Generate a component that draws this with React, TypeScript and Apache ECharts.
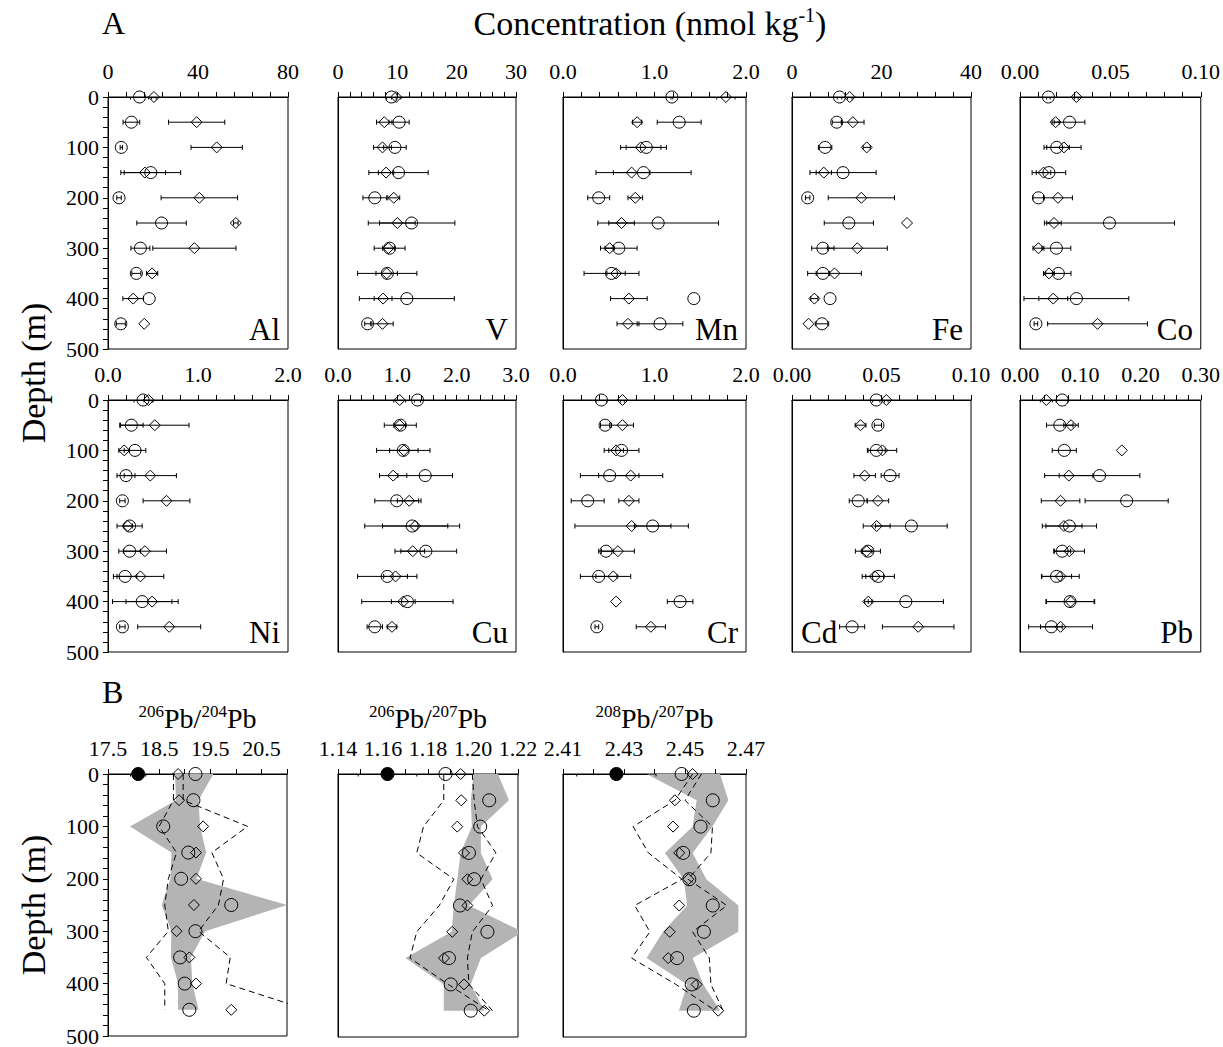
import React, { useEffect, useRef } from 'react';
import * as echarts from 'echarts';

const FONT = '"Liberation Serif", "Times New Roman", serif';

const depths = [0, 50, 100, 150, 200, 250, 300, 350, 400, 450];

// ---- Panel A: circles (c) and diamonds (d) with their errors (e)
const alC = [14, 10.4, 5.9, 19, 4.9, 23.8, 14.4, 12.6, 18.3, 5.7];
const alCe = [4, 3.7, 0.5, 13.3, 1, 11, 4.2, 2, 0, 2];
const alD = [20.4, 39.4, 48.3, 16.4, 40.6, 56.8, 38.4, 19.6, 11.2, 16.1];
const alDe = [1, 12.5, 11.4, 9.2, 17, 1, 18.5, 2.5, 4.6, 0];

const vC = [9.0, 10.3, 9.6, 10.2, 6.2, 12.4, 8.7, 8.3, 11.6, 5.0];
const vCe = [0.8, 1.7, 1.9, 5, 2, 7.3, 2.6, 5, 8, 0.5];
const vD = [9.8, 7.8, 7.5, 8.1, 9.4, 10.0, 8.5, 8.2, 7.6, 7.5];
const vDe = [0.8, 1.3, 1.5, 1.3, 1, 3, 1, 1.8, 1.5, 1.8];

const mnC = [1.19, 1.27, 0.91, 0.88, 0.39, 1.04, 0.61, 0.53, 1.43, 1.06];
const mnCe = [0.01, 0.24, 0.22, 0.52, 0.12, 0.66, 0.2, 0.3, 0, 0.25];
const mnD = [1.78, 0.81, 0.85, 0.75, 0.79, 0.64, 0.51, 0.58, 0.72, 0.71];
const mnDe = [0.1, 0.05, 0.22, 0.2, 0.08, 0.14, 0.05, 0.1, 0.2, 0.12];

const feC = [10.6, 10.0, 7.4, 11.4, 3.5, 12.7, 6.9, 6.9, 8.5, 6.7];
const feCe = [0.5, 1, 1.5, 7.4, 0.5, 5.5, 2.5, 1.5, 0, 1.5];
const feD = [12.9, 13.6, 16.7, 7.1, 15.5, 25.7, 14.6, 9.5, 5.0, 3.7];
const feDe = [0.5, 2.5, 0.8, 1.7, 7.4, 0, 6.7, 6, 0.8, 0];

const coC = [0.0157, 0.0274, 0.0203, 0.016, 0.0102, 0.0495, 0.0201, 0.0212, 0.0312, 0.0088];
const coCe = [0.001, 0.0085, 0.007, 0.0093, 0.003, 0.036, 0.008, 0.007, 0.029, 0.001];
const coD = [0.0312, 0.0197, 0.0243, 0.013, 0.021, 0.0188, 0.0102, 0.016, 0.0184, 0.0429];
const coDe = [0.001, 0.002, 0.0095, 0.004, 0.008, 0.004, 0.003, 0.003, 0.008, 0.0276];

const niC = [0.39, 0.26, 0.3, 0.2, 0.16, 0.24, 0.24, 0.19, 0.38, 0.16];
const niCe = [0.1, 0.13, 0.12, 0.1, 0.03, 0.14, 0.12, 0.13, 0.33, 0.03];
const niD = [0.45, 0.52, 0.18, 0.47, 0.65, 0.22, 0.41, 0.36, 0.49, 0.68];
const niDe = [0.05, 0.38, 0.06, 0.29, 0.26, 0.05, 0.24, 0.26, 0.29, 0.35];

const cuC = [1.34, 1.05, 1.1, 1.47, 0.99, 1.25, 1.48, 0.83, 1.17, 0.62];
const cuCe = [0.05, 0.27, 0.45, 0.46, 0.37, 0.8, 0.52, 0.5, 0.77, 0.13];
const cuD = [1.04, 1.04, 1.11, 0.93, 1.2, 1.3, 1.26, 0.97, 1.1, 0.91];
const cuDe = [0.1, 0.1, 0.24, 0.23, 0.2, 0.55, 0.2, 0.2, 0.2, 0.08];

const crC = [0.42, 0.46, 0.64, 0.51, 0.27, 0.98, 0.47, 0.39, 1.28, 0.37];
const crCe = [0.06, 0.05, 0.19, 0.32, 0.18, 0.2, 0.08, 0.2, 0.14, 0.02];
const crD = [0.65, 0.65, 0.58, 0.74, 0.72, 0.75, 0.6, 0.55, 0.58, 0.96];
const crDe = [0.02, 0.12, 0.08, 0.35, 0.11, 0.62, 0.18, 0.19, 0, 0.16];

const cdC = [0.0471, 0.048, 0.0471, 0.0548, 0.037, 0.0667, 0.0424, 0.0482, 0.0636, 0.0336];
const cdCe = [0.002, 0.002, 0.005, 0.005, 0.005, 0.02, 0.007, 0.009, 0.021, 0.007];
const cdD = [0.0527, 0.0383, 0.0505, 0.0406, 0.048, 0.0473, 0.0417, 0.0462, 0.0426, 0.0705];
const cdDe = [0.001, 0.003, 0.008, 0.006, 0.006, 0.0075, 0.003, 0.005, 0.002, 0.02];

const pbC = [0.07, 0.066, 0.0735, 0.132, 0.177, 0.082, 0.07, 0.0606, 0.083, 0.052];
const pbCe = [0.01, 0.022, 0.02, 0.067, 0.069, 0.045, 0.014, 0.025, 0.04, 0.018];
const pbD = [0.0437, 0.0847, 0.169, 0.081, 0.0673, 0.073, 0.082, 0.0673, 0.084, 0.0673];
const pbDe = [0.01, 0.012, 0, 0.04, 0.032, 0.03, 0.025, 0.031, 0.04, 0.053];

// ---- Panel B: isotope ratios
const r64C = [19.21, 19.17, 18.58, 19.07, 18.93, 19.91, 19.21, 18.91, 19.0, 19.09];
const r64D = [18.87, 18.89, 19.36, 19.22, 19.22, 19.18, 18.84, 19.09, 19.22, 19.91];
const r64BandL = [18.81, 18.83, 17.93, 18.74, 18.72, 18.55, 18.74, 18.73, 18.87, 18.87];
const r64BandR = [19.56, 19.27, 19.3, 19.42, 19.23, 21.0, 19.4, 19.12, 19.15, 19.27];
const r64DashL = [18.78, 18.78, 18.5, 18.84, 18.68, 18.61, 18.68, 18.25, 18.61, 18.61];
const r64DashR = [18.97, 18.97, 20.23, 19.53, 19.76, 19.66, 19.27, 19.89, 19.81, 21.4];
const r64Ref = [18.09];
const r64RefErr = [0.15];

const r67C = [1.1878, 1.2072, 1.2032, 1.1982, 1.2005, 1.1942, 1.2064, 1.1893, 1.1901, 1.199];
const r67D = [1.1945, 1.1948, 1.193, 1.196, 1.1975, 1.1975, 1.1908, 1.1871, 1.196, 1.205];
const r67BandL = [1.2003, 1.199, 1.1995, 1.1945, 1.193, 1.1915, 1.1905, 1.17, 1.187, 1.187];
const r67BandR = [1.2111, 1.216, 1.2035, 1.2035, 1.2087, 1.1982, 1.222, 1.2035, 1.199, 1.205];
const r67DashL = [1.187, 1.187, 1.178, 1.175, 1.1915, 1.185, 1.175, 1.172, 1.189, 1.207];
const r67DashR = [1.1997, 1.2005, 1.202, 1.2102, 1.2035, 1.2087, 1.1997, 1.1975, 1.1982, 1.2087];
const r67Ref = [1.162];
const r67RefErr = [0.013];

const r87C = [2.4489, 2.4591, 2.4551, 2.4494, 2.4514, 2.4591, 2.4562, 2.4474, 2.4522, 2.4529];
const r87D = [2.4525, 2.4467, 2.4461, 2.4481, 2.4511, 2.4481, 2.445, 2.4445, 2.4538, 2.4609];
const r87BandL = [2.4374, 2.4538, 2.4525, 2.4434, 2.4496, 2.4507, 2.4428, 2.4374, 2.4507, 2.448];
const r87BandR = [2.4615, 2.4642, 2.459, 2.4525, 2.457, 2.4675, 2.4675, 2.4525, 2.456, 2.4615];
const r87DashL = [2.4525, 2.4467, 2.433, 2.438, 2.449, 2.4335, 2.4385, 2.4325, 2.447, 2.46];
const r87DashR = [2.4554, 2.45, 2.459, 2.4585, 2.451, 2.4637, 2.4525, 2.458, 2.4585, 2.4625];
const r87Ref = [2.4275];
const r87RefErr = [0.013];

type AxisCfg = { min: number; max: number; minor: number; major: number; dec: number };

const panelsA = [
  { name: 'Al', c: alC, ce: alCe, d: alD, de: alDe, ax: { min: 0, max: 80, minor: 8, major: 40, dec: 0 } },
  { name: 'V', c: vC, ce: vCe, d: vD, de: vDe, ax: { min: 0, max: 30, minor: 2, major: 10, dec: 0 } },
  { name: 'Mn', c: mnC, ce: mnCe, d: mnD, de: mnDe, ax: { min: 0, max: 2, minor: 0.2, major: 1, dec: 1 } },
  { name: 'Fe', c: feC, ce: feCe, d: feD, de: feDe, ax: { min: 0, max: 40, minor: 4, major: 20, dec: 0 } },
  { name: 'Co', c: coC, ce: coCe, d: coD, de: coDe, ax: { min: 0, max: 0.1, minor: 0.01, major: 0.05, dec: 2 } },
  { name: 'Ni', c: niC, ce: niCe, d: niD, de: niDe, ax: { min: 0, max: 2, minor: 0.2, major: 1, dec: 1 } },
  { name: 'Cu', c: cuC, ce: cuCe, d: cuD, de: cuDe, ax: { min: 0, max: 3, minor: 0.2, major: 1, dec: 1 } },
  { name: 'Cr', c: crC, ce: crCe, d: crD, de: crDe, ax: { min: 0, max: 2, minor: 0.2, major: 1, dec: 1 } },
  { name: 'Cd', c: cdC, ce: cdCe, d: cdD, de: cdDe, ax: { min: 0, max: 0.1, minor: 0.01, major: 0.05, dec: 2 } },
  { name: 'Pb', c: pbC, ce: pbCe, d: pbD, de: pbDe, ax: { min: 0, max: 0.3, minor: 0.02, major: 0.1, dec: 2 } },
];

const panelsB = [
  { t: '206', b: '204', c: r64C, d: r64D, bl: r64BandL, br: r64BandR, dl: r64DashL, dr: r64DashR, ref: r64Ref, refE: r64RefErr, ax: { min: 17.5, max: 21, minor: 0.5, major: 1, dec: 1 } },
  { t: '206', b: '207', c: r67C, d: r67D, bl: r67BandL, br: r67BandR, dl: r67DashL, dr: r67DashR, ref: r67Ref, refE: r67RefErr, ax: { min: 1.14, max: 1.22, minor: 0.01, major: 0.02, dec: 2 } },
  { t: '208', b: '207', c: r87C, d: r87D, bl: r87BandL, br: r87BandR, dl: r87DashL, dr: r87DashR, ref: r87Ref, refE: r87RefErr, ax: { min: 2.41, max: 2.47, minor: 0.01, major: 0.02, dec: 2 } },
];

const colL = [108, 338, 563, 792, 1020];
const colW = [180, 178, 183, 179, 181];
const rowTop = [97, 400];
const rowH = 252;
const bTop = 774;
const bH = 263;
const bL = [108, 338, 563];
const bW = [179, 180, 183];

const fmt = (a: AxisCfg) => (v: number) => {
  const k = (v - a.min) / a.major;
  if (Math.abs(k - Math.round(k)) > 1e-6) return '';
  return v.toFixed(a.dec);
};

const errRender = (params: any, api: any) => {
  const lo = api.value(0);
  const hi = api.value(1);
  const y = api.value(2);
  if (!(hi > lo)) return { type: 'group', children: [] };
  const p1 = api.coord([lo, y]);
  const p2 = api.coord([hi, y]);
  const cap = 2.5;
  const st = { stroke: '#000', lineWidth: 1 };
  return {
    type: 'group',
    children: [
      { type: 'line', shape: { x1: p1[0], y1: p1[1], x2: p2[0], y2: p2[1] }, style: st },
      { type: 'line', shape: { x1: p1[0], y1: p1[1] - cap, x2: p1[0], y2: p1[1] + cap }, style: st },
      { type: 'line', shape: { x1: p2[0], y1: p2[1] - cap, x2: p2[0], y2: p2[1] + cap }, style: st },
    ],
  };
};

const bandRender = (L: number[], R: number[]) => (params: any, api: any) => {
  if (params.dataIndex !== 0) return { type: 'group', children: [] };
  const pts: number[][] = [];
  depths.forEach((d, j) => pts.push(api.coord([L[j], d])));
  for (let j = depths.length - 1; j >= 0; j--) pts.push(api.coord([R[j], depths[j]]));
  return { type: 'polygon', shape: { points: pts }, style: { fill: '#b4b4b4', stroke: 'none' } };
};

function buildOption() {
  const grid: any[] = [];
  const xAxis: any[] = [];
  const yAxis: any[] = [];
  const series: any[] = [];
  const graphic: any[] = [];

  const addAxes = (idx: number, left: number, top: number, width: number, height: number, ax: AxisCfg, first: boolean) => {
    grid.push({ left, top, width, height, show: true, borderColor: '#000', borderWidth: 1, backgroundColor: 'transparent' });
    xAxis.push({
      gridIndex: idx,
      type: 'value',
      position: 'top',
      min: ax.min,
      max: ax.max,
      interval: ax.minor,
      axisLine: { show: true, lineStyle: { color: '#000', width: 1 } },
      axisTick: { show: true, inside: false, length: 5, lineStyle: { color: '#000', width: 1 } },
      axisLabel: { show: true, margin: 15, fontFamily: FONT, fontSize: 22, color: '#000', formatter: fmt(ax), showMinLabel: true, showMaxLabel: true },
      splitLine: { show: false },
    });
    yAxis.push({
      gridIndex: idx,
      type: 'value',
      inverse: true,
      min: 0,
      max: 500,
      interval: 20,
      axisLine: { show: true, lineStyle: { color: '#000', width: 1 } },
      axisTick: { show: first, inside: false, length: 5, lineStyle: { color: '#000', width: 1 } },
      axisLabel: { show: first, margin: 9, fontFamily: FONT, fontSize: 22, color: '#000', formatter: (v: number) => (v % 100 === 0 ? String(v) : '') },
      splitLine: { show: false },
    });
  };

  const addErr = (idx: number, vals: number[], errs: number[], ys: number[]) => {
    series.push({
      type: 'custom',
      xAxisIndex: idx,
      yAxisIndex: idx,
      clip: true,
      silent: true,
      z: 2,
      renderItem: errRender,
      encode: { x: [0, 1], y: 2 },
      data: vals.map((v, j) => [v - errs[j], v + errs[j], ys[j]]),
    });
  };

  const addScatter = (idx: number, vals: number[], ys: number[], symbol: string, size: any, fill: string) => {
    series.push({
      type: 'scatter',
      xAxisIndex: idx,
      yAxisIndex: idx,
      symbol,
      symbolSize: size,
      silent: true,
      z: 3,
      itemStyle: { color: fill, borderColor: '#000', borderWidth: 1, opacity: 1 },
      data: vals.map((v, j) => [v, ys[j]]),
    });
  };

  panelsA.forEach((p, i) => {
    const row = Math.floor(i / 5);
    const col = i % 5;
    const left = colL[col];
    const top = rowTop[row];
    const w = colW[col];
    addAxes(i, left, top, w, rowH, p.ax, col === 0);
    addErr(i, p.c, p.ce, depths);
    addErr(i, p.d, p.de, depths);
    addScatter(i, p.c, depths, 'circle', 12, 'rgba(0,0,0,0)');
    addScatter(i, p.d, depths, 'diamond', 11, 'rgba(0,0,0,0)');
    const isLeft = p.name === 'Cd';
    graphic.push({
      type: 'text',
      x: isLeft ? left + 9 : left + w - 8,
      y: top + rowH - 4,
      style: { text: p.name, fontFamily: FONT, fontSize: 31, fill: '#000', align: isLeft ? 'left' : 'right', verticalAlign: 'bottom' },
    });
  });

  panelsB.forEach((p, k) => {
    const idx = 10 + k;
    const left = bL[k];
    const w = bW[k];
    addAxes(idx, left, bTop, w, bH, p.ax, k === 0);
    series.push({
      type: 'custom',
      xAxisIndex: idx,
      yAxisIndex: idx,
      clip: true,
      silent: true,
      z: 1,
      renderItem: bandRender(p.bl, p.br),
      encode: { x: [0, 1], y: 2 },
      data: depths.map((d, j) => [p.bl[j], p.br[j], d]),
    });
    [p.dl, p.dr].forEach((arr) => {
      series.push({
        type: 'line',
        xAxisIndex: idx,
        yAxisIndex: idx,
        symbol: 'none',
        clip: true,
        silent: true,
        z: 2,
        lineStyle: { color: '#000', width: 1, type: [6, 4] },
        data: arr.map((v, j) => [v, depths[j]]),
      });
    });
    addScatter(idx, p.c, depths, 'circle', 13, 'rgba(0,0,0,0)');
    addScatter(idx, p.d, depths, 'diamond', 11, 'rgba(0,0,0,0)');
    addErr(idx, p.ref, p.refE, [0]);
    addScatter(idx, p.ref, [0], 'circle', 13, '#000');
    graphic.push({
      type: 'text',
      x: left + w / 2,
      y: 718,
      style: {
        text: `{s|${p.t}}{n|Pb/}{s|${p.b}}{n|Pb}`,
        align: 'center',
        verticalAlign: 'middle',
        fill: '#000',
        rich: {
          n: { fontFamily: FONT, fontSize: 28, lineHeight: 30, fill: '#000' },
          s: { fontFamily: FONT, fontSize: 17, lineHeight: 17, verticalAlign: 'top', fill: '#000' },
        },
      },
    });
  });

  graphic.push({ type: 'text', x: 102, y: 23, style: { text: 'A', fontFamily: FONT, fontSize: 32, fill: '#000', align: 'left', verticalAlign: 'middle' } });
  graphic.push({ type: 'text', x: 102, y: 692, style: { text: 'B', fontFamily: FONT, fontSize: 32, fill: '#000', align: 'left', verticalAlign: 'middle' } });
  graphic.push({
    type: 'text',
    x: 650,
    y: 23,
    style: {
      text: '{n|Concentration (nmol kg}{s|-1}{n|)}',
      align: 'center',
      verticalAlign: 'middle',
      fill: '#000',
      rich: {
        n: { fontFamily: FONT, fontSize: 34, lineHeight: 36, fill: '#000' },
        s: { fontFamily: FONT, fontSize: 20, lineHeight: 20, verticalAlign: 'top', fill: '#000' },
      },
    },
  });
  [373, 905].forEach((cy) => {
    graphic.push({
      type: 'text',
      x: 33,
      y: cy,
      rotation: Math.PI / 2,
      style: { text: 'Depth (m)', fontFamily: FONT, fontSize: 34, fill: '#000', align: 'center', verticalAlign: 'middle' },
    });
  });

  return { animation: false, backgroundColor: '#fff', grid, xAxis, yAxis, series, graphic };
}

export default function App() {
  const ref = useRef<HTMLDivElement>(null);
  useEffect(() => {
    document.body.style.margin = '0';
    const chart = echarts.init(ref.current as HTMLDivElement, null, { renderer: 'svg' });
    chart.setOption(buildOption() as any);
    return () => chart.dispose();
  }, []);
  return <div ref={ref} style={{ width: 1223, height: 1047, background: '#fff' }} />;
}
